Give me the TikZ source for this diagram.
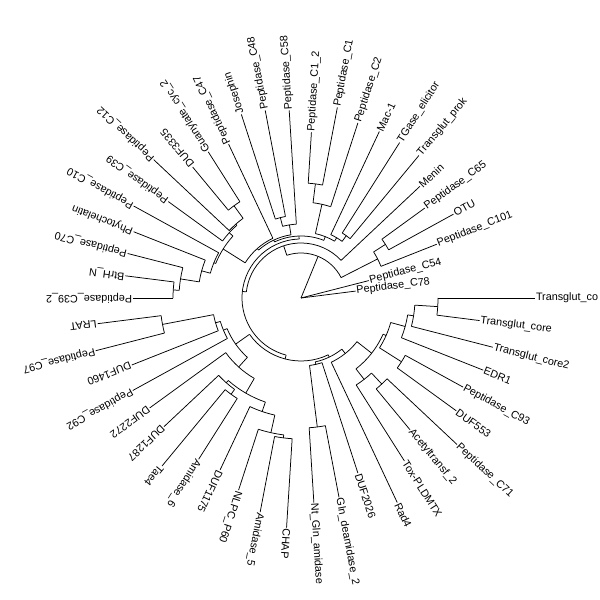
\documentclass[tikz,border=0pt]{standalone}
\usepackage{fontspec}
\setmainfont{Liberation Sans}
\newcommand\tipL[4]{\node[lab,rotate=#2] (#1) at (#2:#3pt) {#4};}
\newcommand\inodeL[5]{\coordinate (#1) at (#3:#2pt); \draw[br] (#4:#2pt) arc[start angle=#4,end angle=#5,radius=#2pt];}
\newcommand\stT[3]{\draw[br] (#2:#1pt) -- (#3.west);}
\newcommand\stN[3]{\draw[br] (#2:#1pt) -- (#3);}
\tikzset{
  br/.style={line width=0.75pt, black},
  lab/.style={anchor=west, inner sep=1pt, outer sep=0pt, font=\fontsize{10.8}{12}\selectfont}
}
\begin{document}
\begin{tikzpicture}
\useasboundingbox (0,0) rectangle (600pt,600pt);
\begin{scope}[shift={(301pt,302pt)}]
% tips
\tipL{t1}{360}{234}{Transglut\_co}
\tipL{t2}{7.2}{55}{Peptidase\_C78}
\tipL{t3}{14.4}{70}{Peptidase\_C54}
\tipL{t4}{21.6}{146}{Peptidase\_C101}
\tipL{t5}{28.8}{174}{OTU}
\tipL{t6}{36}{153}{Peptidase\_C65}
\tipL{t7}{43.2}{163}{Menin}
\tipL{t8}{50.4}{185}{Transglut\_prok}
\tipL{t9}{57.6}{184}{TGase\_elicitor}
\tipL{t10}{64.8}{184}{Mac-1}
\tipL{t11}{72}{184}{Peptidase\_C2}
\tipL{t12}{79.2}{194}{Peptidase\_C1}
\tipL{t13}{86.4}{166}{Peptidase\_C1\_2}
\tipL{t14}{93.6}{188}{Peptidase\_C58}
\tipL{t15}{100.8}{191}{Peptidase\_C48}
\tipL{t16}{108}{193}{Josephin}
\tipL{t17}{115.2}{170}{Peptidase\_C47}
\tipL{t18}{122.4}{173}{Guanylate\_cyc\_2}
\tipL{t19}{129.6}{170}{DUF3335}
\tipL{t20}{136.8}{202}{Peptidase\_C12}
\tipL{t21}{144}{164}{Peptidase\_C39}
\tipL{t22}{151.2}{191}{Peptidase\_C10}
\tipL{t23}{158.4}{180}{Phytochelatin}
\tipL{t24}{165.6}{179}{Peptidase\_C70}
\tipL{t25}{172.8}{177}{BtrH\_N}
\tipL{t26}{180}{168}{Peptidase\_C39\_2}
\tipL{t27}{187.2}{205}{LRAT}
\tipL{t28}{194.4}{212}{Peptidase\_C97}
\tipL{t29}{201.6}{182}{DUF1460}
\tipL{t30}{208.8}{192}{Peptidase\_C92}
\tipL{t31}{216}{187}{DUF2272}
\tipL{t32}{223.2}{188}{DUF1287}
\tipL{t33}{230.4}{218}{Tae4}
\tipL{t34}{237.6}{191}{Amidase\_6}
\tipL{t35}{244.8}{190}{DUF1175}
\tipL{t36}{252}{202}{NLPC\_P60}
\tipL{t37}{259.2}{218}{Amidase\_5}
\tipL{t38}{266.4}{230}{CHAP}
\tipL{t39}{273.6}{205}{Nt\_Gln\_amidase}
\tipL{t40}{280.8}{203}{Gln\_deamidase\_2}
\tipL{t41}{288}{184}{DUF2026}
\tipL{t42}{295.2}{226}{Rad4}
\tipL{t43}{302.4}{193}{Tox-PLDMTX}
\tipL{t44}{309.6}{171}{Acetyltransf\_2}
\tipL{t45}{316.8}{214}{Peptidase\_C71}
\tipL{t46}{324}{192}{DUF553}
\tipL{t47}{331.2}{185}{Peptidase\_C93}
\tipL{t48}{338.4}{196}{EDR1}
\tipL{t49}{345.6}{198}{Transglut\_core2}
\tipL{t50}{352.8}{180}{Transglut\_core}
% internal nodes: name, radius, angle, arc from, arc to
\coordinate (root) at (0,0);
\inodeL{nA}{45}{67.7}{27}{108.4}
\inodeL{nX1}{86}{27}{21.6}{32.4}
\inodeL{nX2}{100}{32.4}{28.8}{36}
\inodeL{nB}{55}{108.4}{43.2}{173.6}
\inodeL{nB2}{59}{173.6}{91.8}{255.4}
\inodeL{nC}{62}{91.8}{68.4}{115.25}
\inodeL{nCb}{64}{115.25}{99}{131.5}
\inodeL{nCc}{66}{131.5}{115.2}{147.8}
\inodeL{nD}{66}{68.4}{59.4}{77.4}
\inodeL{nD2}{70}{59.4}{54}{64.8}
\inodeL{nD1}{77}{54}{50.4}{57.6}
\inodeL{nD4}{96}{77.4}{72}{82.8}
\inodeL{nD3}{115}{82.8}{79.2}{86.4}
\inodeL{nE2}{74}{99}{93.6}{104.4}
\inodeL{nE1}{83}{104.4}{100.8}{108}
\inodeL{nH4}{92}{147.8}{137.7}{157.95}
\inodeL{nE5}{97}{137.7}{131.4}{144}
\inodeL{nE4}{98.5}{131.4}{126}{136.8}
\inodeL{nE3}{114}{126}{122.4}{129.6}
\inodeL{nH5}{94}{157.95}{151.2}{164.7}
\inodeL{nH3}{103}{164.7}{158.4}{171}
\inodeL{nH2}{122}{171}{165.6}{176.4}
\inodeL{nH1}{128}{176.4}{172.8}{180}
\inodeL{nB3}{63}{255.4}{215.2}{295.6}
\inodeL{nW12}{80}{215.2}{202.5}{227.9}
\inodeL{nW3}{84}{202.5}{196.2}{208.8}
\inodeL{nW2}{89}{196.2}{190.8}{201.6}
\inodeL{nW1}{141}{190.8}{187.2}{194.4}
\inodeL{nW11}{93}{227.9}{216}{239.85}
\inodeL{nW7}{110}{239.85}{228.6}{251.1}
\inodeL{nW5}{113}{228.6}{223.2}{234}
\inodeL{nW4}{119}{234}{230.4}{237.6}
\inodeL{nW10}{120}{251.1}{244.8}{257.4}
\inodeL{nW9}{138}{257.4}{252}{262.8}
\inodeL{nW8}{141}{262.8}{259.2}{266.4}
\inodeL{nB4}{65.5}{295.6}{282.6}{308.6}
\inodeL{nG2}{68}{282.6}{277.2}{288}
\inodeL{nG1}{130}{277.2}{273.6}{280.8}
\inodeL{nF9}{71}{308.6}{295.2}{322}
\inodeL{nF6}{89.7}{322}{307.8}{336.2}
\inodeL{nF8}{103}{307.8}{302.4}{313.2}
\inodeL{nF7}{118}{313.2}{309.6}{316.8}
\inodeL{nF5}{93}{336.2}{327.6}{344.7}
\inodeL{nF4}{119}{327.6}{324}{331.2}
\inodeL{nF3}{108}{344.7}{338.4}{351}
\inodeL{nF2}{114}{351}{345.6}{356.4}
\inodeL{nF1}{137}{356.4}{352.8}{360}
% stems: parent radius, child angle, child
\draw[br] (root) -- (t2.west);
\draw[br] (root) -- (t3.west);
\draw[br] (root) -- (nA);
\stN{45}{27}{nX1} \stN{45}{108.4}{nB}
\stT{86}{21.6}{t4} \stN{86}{32.4}{nX2}
\stT{100}{28.8}{t5} \stT{100}{36}{t6}
\stT{55}{43.2}{t7} \stN{55}{173.6}{nB2}
\stN{59}{91.8}{nC} \stN{59}{255.4}{nB3}
\stN{62}{68.4}{nD} \stN{62}{115.25}{nCb}
\stN{64}{99}{nE2} \stN{64}{131.5}{nCc}
\stT{66}{115.2}{t17} \stN{66}{147.8}{nH4}
\stN{66}{59.4}{nD2} \stN{66}{77.4}{nD4}
\stN{70}{54}{nD1} \stT{70}{64.8}{t10}
\stT{77}{50.4}{t8} \stT{77}{57.6}{t9}
\stT{96}{72}{t11} \stN{96}{82.8}{nD3}
\stT{115}{79.2}{t12} \stT{115}{86.4}{t13}
\stT{74}{93.6}{t14} \stN{74}{104.4}{nE1}
\stT{83}{100.8}{t15} \stT{83}{108}{t16}
\stN{92}{137.7}{nE5} \stN{92}{157.95}{nH5}
\stN{97}{131.4}{nE4} \stT{97}{144}{t21}
\stN{98.5}{126}{nE3} \stT{98.5}{136.8}{t20}
\stT{114}{122.4}{t18} \stT{114}{129.6}{t19}
\stT{94}{151.2}{t22} \stN{94}{164.7}{nH3}
\stT{103}{158.4}{t23} \stN{103}{171}{nH2}
\stT{122}{165.6}{t24} \stN{122}{176.4}{nH1}
\stT{128}{172.8}{t25} \stT{128}{180}{t26}
\stN{63}{215.2}{nW12} \stN{63}{295.6}{nB4}
\stN{80}{202.5}{nW3} \stN{80}{227.9}{nW11}
\stN{84}{196.2}{nW2} \stT{84}{208.8}{t30}
\stN{89}{190.8}{nW1} \stT{89}{201.6}{t29}
\stT{141}{187.2}{t27} \stT{141}{194.4}{t28}
\stT{93}{216}{t31} \stN{93}{239.85}{nW7}
\stN{110}{228.6}{nW5} \stN{110}{251.1}{nW10}
\stT{113}{223.2}{t32} \stN{113}{234}{nW4}
\stT{119}{230.4}{t33} \stT{119}{237.6}{t34}
\stT{120}{244.8}{t35} \stN{120}{257.4}{nW9}
\stT{138}{252}{t36} \stN{138}{262.8}{nW8}
\stT{141}{259.2}{t37} \stT{141}{266.4}{t38}
\stN{65.5}{282.6}{nG2} \stN{65.5}{308.6}{nF9}
\stN{68}{277.2}{nG1} \stT{68}{288}{t41}
\stT{130}{273.6}{t39} \stT{130}{280.8}{t40}
\stT{71}{295.2}{t42} \stN{71}{322}{nF6}
\stN{89.7}{307.8}{nF8} \stN{89.7}{336.2}{nF5}
\stT{103}{302.4}{t43} \stN{103}{313.2}{nF7}
\stT{118}{309.6}{t44} \stT{118}{316.8}{t45}
\stN{93}{327.6}{nF4} \stN{93}{344.7}{nF3}
\stT{119}{324}{t46} \stT{119}{331.2}{t47}
\stT{108}{338.4}{t48} \stN{108}{351}{nF2}
\stT{114}{345.6}{t49} \stN{114}{356.4}{nF1}
\stT{137}{352.8}{t50} \stT{137}{360}{t1}
\end{scope}
\end{tikzpicture}
\end{document}
